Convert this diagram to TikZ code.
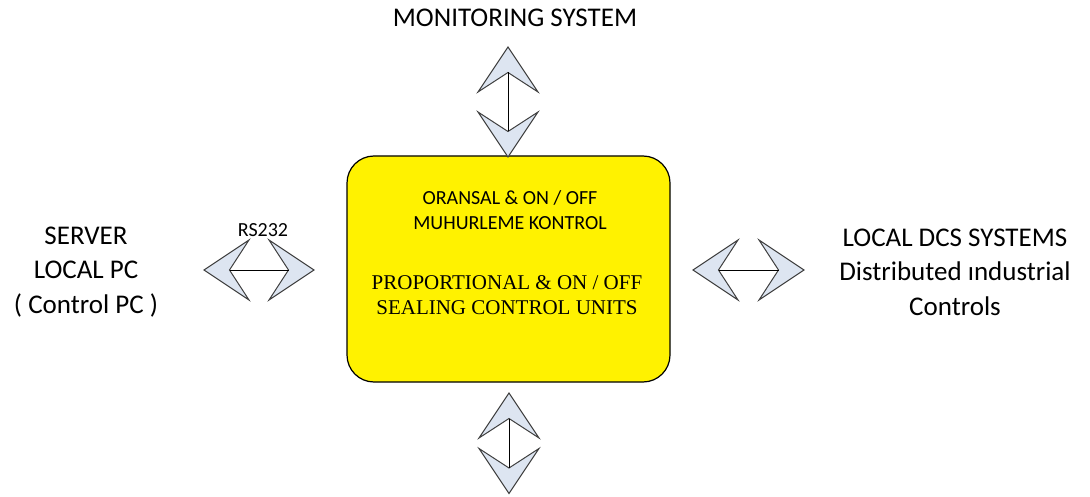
\documentclass[tikz,border=0pt]{standalone}
\usepackage{fontspec}
\setmainfont{Carlito}
\newfontfamily\timesf{Liberation Serif}
\definecolor{headfill}{HTML}{DDE5F1}
\definecolor{headline}{HTML}{404040}
\tikzset{
  chevstyle/.style={fill=headfill,draw=headline,line width=1pt,line join=miter},
  chev/.pic={
    \draw[chevstyle] (0,0) -- (-30,45) -- (0,25.5) -- (30,45) -- cycle;
    \coordinate (-notch) at (0,25.5);
  },
  link/.style={draw=black,line width=0.9pt},
  bigtxt/.style={font=\fontsize{27}{34.5}\selectfont,align=center,inner sep=0pt},
  boxtxt/.style={font=\fontsize{20}{25}\selectfont,align=center,inner sep=0pt},
  sertxt/.style={font=\timesf\fontsize{21}{25.5}\selectfont,align=center,inner sep=0pt},
}
\begin{document}
\begin{tikzpicture}[x=1pt,y=-1pt]
\useasboundingbox (0,0) rectangle (1090,497);
% central box
\node[draw=black,line width=1.2pt,fill=yellow,rounded corners=27pt,
      minimum width=323pt,minimum height=226pt,inner sep=0pt] (box) at (508.5,269) {};
\node[boxtxt] (tr) at (510,210.5) {ORANSAL \& ON / OFF\\MUHURLEME KONTROL};
\node[sertxt] (en) at (507,295) {PROPORTIONAL \& ON / OFF\\SEALING CONTROL UNITS};
% top arrow
\pic (tu) at (508,47) {chev};
\pic[rotate=180] (td) at (508,157) {chev};
\draw[link] (tu-notch) -- (td-notch);
% bottom arrow
\pic (bu) at (509,393) {chev};
\pic[rotate=180] (bd) at (509,493.5) {chev};
\draw[link] (bu-notch) -- (bd-notch);
% left arrow
\pic[rotate=90] (ll) at (204,270) {chev};
\pic[rotate=-90] (lr) at (314,270) {chev};
\draw[link] (ll-notch) -- (lr-notch);
% right arrow
\pic[rotate=90] (rl) at (693,270) {chev};
\pic[rotate=-90] (rr) at (804,270) {chev};
\draw[link] (rl-notch) -- (rr-notch);
% labels
\node[bigtxt] (mon) at (515,18) {MONITORING SYSTEM};
\node[font=\fontsize{20}{24}\selectfont,inner sep=0pt] (rs) at (263,230) {RS232};
\node[bigtxt] (srv) at (86,272) {SERVER\\LOCAL PC\\( Control PC )};
\node[bigtxt] (dcs) at (955,272) {LOCAL DCS SYSTEMS\\Distributed ındustrial\\Controls};
\end{tikzpicture}
\end{document}
